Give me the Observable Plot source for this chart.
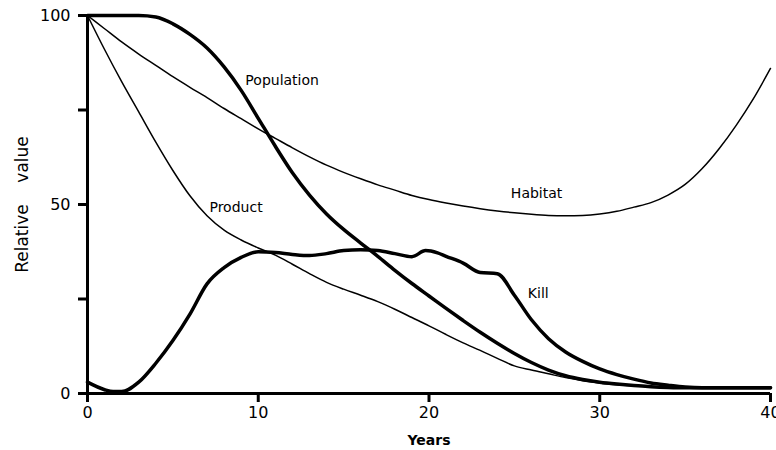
<!DOCTYPE html>
<html>
<head>
<meta charset="utf-8">
<script src="https://cdn.jsdelivr.net/npm/d3@7"></script>
<script src="https://cdn.jsdelivr.net/npm/@observablehq/plot@0.6"></script>
<style>
  html, body { margin: 0; padding: 0; background: #fff; }
  g[aria-label="years-label"] text { letter-spacing: 2.5px; }
</style>
</head>
<body>
<div id="chart"></div>
<script>
// ---- data ----
const popYears = [0,2,3,4,5,6,7,8,9,10,11,12,13,14,15,16,17,18,19,20,21,22,23,24,25,26,27,28,29,30,31,32,33,34,35,36,38,40];
const popValues = [100,100,100,99.6,97.8,95,91.4,86.4,80.2,72.8,65.4,58.4,52.5,47.5,43.4,39.8,36.3,32.6,29.1,25.8,22.5,19.3,16.2,13.3,10.6,8.2,6.2,4.7,3.7,3,2.5,2.1,1.8,1.6,1.5,1.5,1.5,1.5];

const habYears = [0,1,2,3,4,5,6,7,8,9,10,11,12,13,14,15,16,17,18,19,20,21,22,23,24,25,26,27,28,29,30,31,32,33,34,35,36,37,38,39,40];
const habValues = [100,96.5,93,89.8,86.8,83.8,81,78.3,75.4,72.7,70,67.5,65,62.6,60.4,58.5,56.8,55.2,53.8,52.4,51.3,50.4,49.6,48.9,48.3,47.8,47.4,47.1,47,47.1,47.5,48.2,49.3,50.5,52.5,55.3,59.5,64.8,71,78,86];

const prodYears = [0,1,2,3,4,5,6,7,8,9,10,11,12,13,14,15,16,17,18,19,20,21,22,23,24,25,26,27,28,29,30,31,32,33,34,35,40];
const prodValues = [100,91,82.5,74.5,66.5,59,52.3,47,43.2,40.6,38.5,36.6,34.2,31.7,29.4,27.6,26,24.3,22.3,20.1,17.9,15.6,13.4,11.4,9.3,7.3,6.2,5.2,4.2,3.4,2.8,2.3,2,1.8,1.6,1.5,1.5];

const killYears = [0,1,1.5,2,3,4,5,6,7,8,9,10,11,12,13,14,15,16,17,18,19,19.8,20.5,21,22,23,24,25,26,27,28,29,30,31,32,33,34,35,36,40];
const killValues = [3,1,0.5,0.5,3,8,14,21,29,33.3,36,37.5,37.3,36.8,36.5,37,37.8,38,37.8,37,36.2,37.8,37.2,36.3,34.5,32,31.7,26,19.5,14.5,11,8.5,6.5,5,3.8,2.8,2.2,1.7,1.5,1.5];

const seriesNames = ["Population","Habitat","Product","Kill"];
const labelYears = [11.4, 26.3, 8.7, 26.4];
const labelValues = [82.8, 52.9, 49.2, 26.5];

const xTicks = [0,10,20,30,40];
const yTicks = [0,25,50,75,100];
const yTickLabels = ["0","","50","","100"];
const xLabel = "Years";
const yLabel = "Relative\u00a0\u00a0\u00a0\u00a0value";

// ---- build tables ----
const toRows = (xs, ys, name) => xs.map((x, i) => ({year: x, value: ys[i], series: name}));
const pop = toRows(popYears, popValues, "Population");
const hab = toRows(habYears, habValues, "Habitat");
const prod = toRows(prodYears, prodValues, "Product");
const kill = toRows(killYears, killValues, "Kill");
const labels = seriesNames.map((n, i) => ({name: n, year: labelYears[i], value: labelValues[i]}));

const chart = Plot.plot({
  width: 776,
  height: 450,
  marginLeft: 87,
  marginRight: 6,
  marginTop: 15,
  marginBottom: 57,
  style: {fontFamily: "'DejaVu Sans', sans-serif", background: "#fff", color: "#000"},
  x: {domain: [0, 40]},
  y: {domain: [0, 100]},
  marks: [
    Plot.axisX({ticks: xTicks, tickSize: 9, tickPadding: 4, fontSize: 16, strokeWidth: 3, label: null}),
    Plot.axisY({ticks: yTicks, tickSize: 9, tickPadding: 8, fontSize: 16, strokeWidth: 3, label: null,
      tickFormat: (d) => yTickLabels[yTicks.indexOf(d)]}),
    Plot.ruleY([0], {strokeWidth: 3, stroke: "#000"}),
    Plot.ruleX([0], {strokeWidth: 3, stroke: "#000"}),
    Plot.line(hab, {x: "year", y: "value", stroke: "#000", strokeWidth: 1.5, curve: "monotone-x"}),
    Plot.line(prod, {x: "year", y: "value", stroke: "#000", strokeWidth: 1.5, curve: "monotone-x"}),
    Plot.line(pop, {x: "year", y: "value", stroke: "#000", strokeWidth: 3.5, curve: "monotone-x"}),
    Plot.line(kill, {x: "year", y: "value", stroke: "#000", strokeWidth: 3.5, curve: "monotone-x"}),
    Plot.text(labels, {x: "year", y: "value", text: "name", fontSize: 14, fill: "#000"}),
    Plot.text([xLabel], {frameAnchor: "bottom", dy: 51, fontSize: 14, fontWeight: "bold", fill: "#000", ariaLabel: "years-label"}),
    Plot.text([yLabel], {frameAnchor: "left", textAnchor: "middle", dx: -65, rotate: -90, fontSize: 17, fill: "#000"})
  ]
});
document.getElementById("chart").appendChild(chart);
</script>
</body>
</html>
